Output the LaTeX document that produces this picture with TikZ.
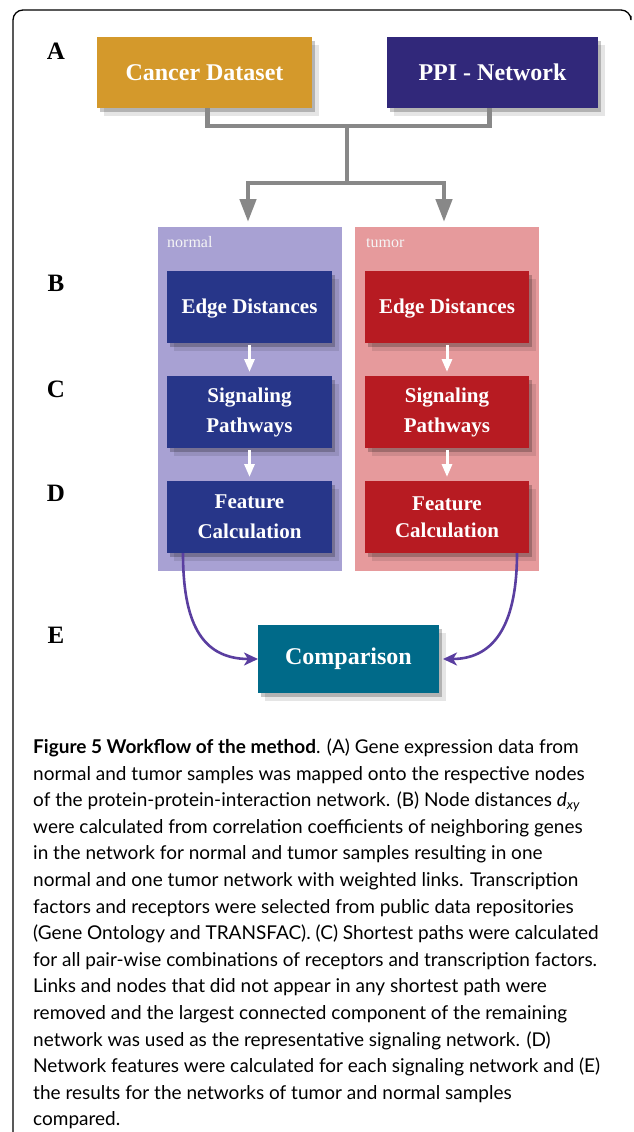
\documentclass[tikz,border=0pt]{standalone}
\usepackage{fontspec}
\setmainfont{Liberation Serif}
\newfontfamily\capfont{Lato}
\usetikzlibrary{arrows.meta,shadows,calc}
\definecolor{gold}{HTML}{D4992B}
\definecolor{ppiblue}{HTML}{31287A}
\definecolor{npanel}{HTML}{A8A1D3}
\definecolor{tpanel}{HTML}{E69A9C}
\definecolor{nbox}{HTML}{273689}
\definecolor{tbox}{HTML}{B71B22}
\definecolor{compcol}{HTML}{006A89}
\definecolor{purp}{HTML}{5A3EA0}
\definecolor{conncol}{HTML}{888888}
\begin{document}
\begin{tikzpicture}[x=1pt,y=-1pt,
  softshadow/.style={drop shadow={shadow xshift=3pt,shadow yshift=-4pt,opacity=.22,fill=black},
                     drop shadow={shadow xshift=7pt,shadow yshift=-8pt,opacity=.10,fill=black}},
  boxbase/.style={anchor=north west,inner sep=0pt,outer sep=0pt,text=white,align=center,softshadow},
  topbox/.style={boxbase,font=\bfseries\fontsize{24}{28}\selectfont,minimum height=71},
  stepbox/.style={boxbase,font=\bfseries\fontsize{21}{30}\selectfont,minimum height=72},
  nbx/.style={stepbox,fill=nbox,minimum width=165},
  tbx/.style={stepbox,fill=tbox,minimum width=164},
  panel/.style={anchor=north west,inner sep=0pt,outer sep=0pt,minimum width=184,minimum height=344},
  plabel/.style={anchor=base west,inner sep=0pt,text=white!92!gray,font=\fontsize{16}{18}\selectfont},
  rowlabel/.style={inner sep=0pt,font=\bfseries\fontsize{25}{28}\selectfont},
  connline/.style={draw=conncol,line width=4.5pt},
  connarrow/.style={connline,-{Triangle[width=16pt,length=23pt]},shorten >=5pt},
  warrow/.style={draw=white,line width=3pt,-{Triangle[width=10pt,length=13pt]},shorten <=2pt,shorten >=4pt},
  parrow/.style={draw=purp,line width=2.6pt,-{Stealth[width=13pt,length=14pt,inset=4pt]}},
  capline/.style={anchor=base west,inner sep=0pt,font=\capfont\fontsize{19}{22}\selectfont}
]
\useasboundingbox (0,0) rectangle (633,1132);
\fill[white] (0,0) rectangle (633,1132);
% frame
\draw[line width=1.3pt,rounded corners=10pt] (13,1140) |- (631,10) -- (631,16);

% top boxes
\node[topbox,fill=gold,minimum width=215] (cancer) at (97,37) {Cancer Dataset};
\node[topbox,fill=ppiblue,minimum width=211] (ppi) at (387,37) {PPI - Network};

% panels
\node[panel,fill=npanel] (np) at (158,227) {};
\node[panel,fill=tpanel] (tp) at (355,227) {};
\node[plabel] (nlab) at (167,247) {normal};
\node[plabel] (tlab) at (366,247) {tumor};

% connectors from top
\coordinate (j1) at (347,126);
\coordinate (j2) at (347,183);
\draw[connline] ($(cancer.south)+(3,0)$) |- (j1);
\draw[connline] ($(ppi.south)+(-3,0)$) |- (j1);
\draw[connline] (j1) -- (j2);
\draw[connarrow] (j2) -| ($(np.north)+(-2,0)$);
\draw[connarrow] (j2) -| ($(tp.north)+(-3,0)$);

% step boxes
\node[nbx] (ned) at (167,271) {Edge Distances\strut};
\node[nbx] (nsp) at (167,376) {Signaling\\Pathways};
\node[nbx] (nfc) at (167,481) {Feature\\Calculation};
\node[tbx] (ted) at (365,271) {Edge Distances\strut};
\node[tbx] (tsp) at (365,376) {Signaling\\Pathways};
\node[tbx,font=\bfseries\fontsize{21}{27}\selectfont] (tfc) at (365,481) {Feature\\Calculation};

\draw[warrow] (ned) -- (nsp);
\draw[warrow] (nsp) -- (nfc);
\draw[warrow] (ted) -- (tsp);
\draw[warrow] (tsp) -- (tfc);

% comparison
\node[boxbase,fill=compcol,minimum width=181,minimum height=68,font=\bfseries\fontsize{24}{28}\selectfont] (cmp) at (258,625) {Comparison\strut};

\coordinate (nstart) at ($(nfc.south west)+(16,0)$);
\coordinate (tstart) at ($(tfc.south east)+(-12,0)$);
\draw[parrow] (nstart) .. controls +(0,67) and +(-58,0) .. (cmp.west);
\draw[parrow,shorten >=4pt] (tstart) .. controls +(0,67) and +(58,0) .. (cmp.east);

% row labels
\node[rowlabel] (la) at (56,51) {A};
\node[rowlabel] (lb) at (56,283) {B};
\node[rowlabel] (lc) at (56,389) {C};
\node[rowlabel] (ld) at (56,493) {D};
\node[rowlabel] (le) at (56,635) {E};

% caption
\node[capline] (c1) at (33,753.5) {\textbf{Figure 5 Workflow of the method}. (A) Gene expression data from};
\node[capline] (c2) at (33,780.1) {normal and tumor samples was mapped onto the respective nodes};
\node[capline] (c3) at (33,806.7) {of the protein-protein-interaction network. (B) Node distances \textit{d}\textsubscript{\itshape xy}};
\node[capline] (c4) at (33,833.3) {were calculated from correlation coefficients of neighboring genes};
\node[capline] (c5) at (33,859.9) {in the network for normal and tumor samples resulting in one};
\node[capline] (c6) at (33,886.5) {normal and one tumor network with weighted links. Transcription};
\node[capline] (c7) at (33,913.1) {factors and receptors were selected from public data repositories};
\node[capline] (c8) at (33,939.7) {(Gene Ontology and TRANSFAC). (C) Shortest paths were calculated};
\node[capline] (c9) at (33,966.3) {for all pair-wise combinations of receptors and transcription factors.};
\node[capline] (c10) at (33,992.9) {Links and nodes that did not appear in any shortest path were};
\node[capline] (c11) at (33,1019.5) {removed and the largest connected component of the remaining};
\node[capline] (c12) at (33,1046.1) {network was used as the representative signaling network. (D)};
\node[capline] (c13) at (33,1072.7) {Network features were calculated for each signaling network and (E)};
\node[capline] (c14) at (33,1099.3) {the results for the networks of tumor and normal samples};
\node[capline] (c15) at (33,1125.9) {compared.};
\end{tikzpicture}
\end{document}
